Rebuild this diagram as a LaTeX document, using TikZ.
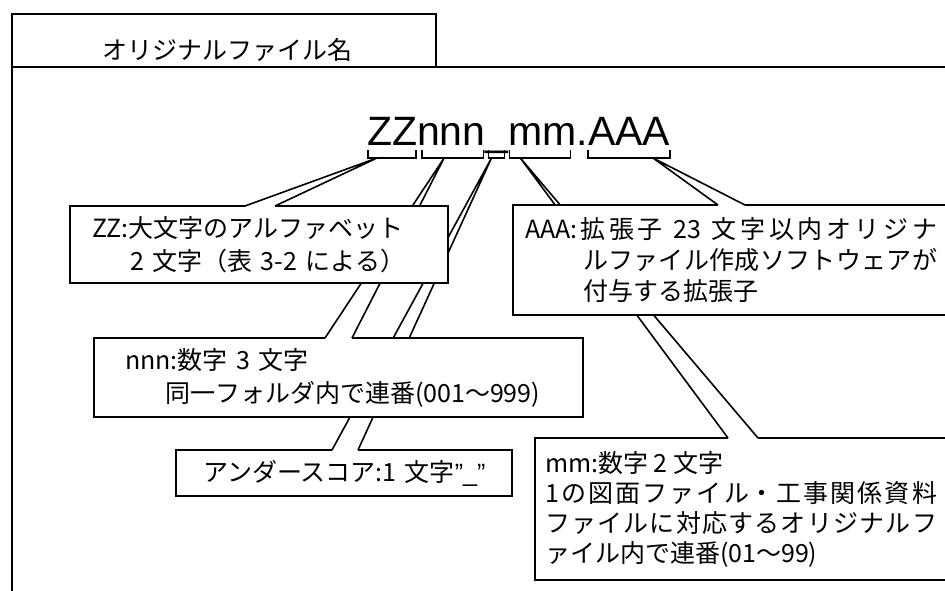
\documentclass[tikz,border=0pt]{standalone}
\usepackage{fontspec}
\setmainfont{Noto Sans CJK JP}
\newfontfamily\fnamefont{Liberation Sans}
\XeTeXlinebreaklocale "ja"
\XeTeXlinebreakskip=0pt plus 2pt
\usetikzlibrary{positioning}
\tikzset{
  callbox/.style={draw, fill=white, outer sep=0pt, inner ysep=0pt, anchor=north west, font=\fontsize{25pt}{33pt}\selectfont},
  fname/.style={inner sep=0pt, outer sep=0pt, font=\fnamefont\fontsize{41pt}{41pt}\selectfont},
}

\begin{document}
\begin{tikzpicture}[x=1pt, y=-1pt, line width=1.6pt, line join=miter]
  \useasboundingbox (0,0) rectangle (945,590);
  \clip (0,0) rectangle (945,590);

  % Frame and title tab
  \draw (12,620) -- (12,67) -- (980,67);
  \draw (12,67) |- (436,14) -- (436,67);
  \node[font=\fontsize{25pt}{30pt}\selectfont] (title) at (227,50) {オリジナルファイル名};

  % File name
  \node[fname, anchor=base west] (zz) at (367,145) {ZZ};
  \node[fname, base right=0pt of zz] (nnn) {nnn};
  \node[fname, base right=0pt of nnn] (us) {\_};
  \node[fname, base right=0pt of us] (mm) {mm};
  \node[fname, base right=0pt of mm] (dot) {.};
  \node[fname, base right=0pt of dot] (aaa) {AAA};

  \draw ([xshift=1pt,yshift=-5pt]zz.base west) -- ++(0,8) -| ([xshift=-1pt,yshift=-5pt]zz.base east);
  \draw ([xshift=5pt,yshift=-5pt]nnn.base west) -- ++(0,8) -| ([xshift=-2pt,yshift=-5pt]nnn.base east);
  \draw ([xshift=3pt,yshift=-5pt]us.base west) -- ++(0,8) -| ([xshift=-4pt,yshift=-5pt]us.base east);
  \draw ([xshift=1pt,yshift=-5pt]mm.base west) -- ++(0,8) -| ([xshift=-6pt,yshift=-5pt]mm.base east);
  \draw ([xshift=0pt,yshift=-5pt]aaa.base west) -- ++(0,8) -| ([xshift=0pt,yshift=-5pt]aaa.base east);

  \coordinate (zztip) at ([xshift=10pt,yshift=-13pt]zz.base west);
  \coordinate (nnntip) at ([xshift=27pt,yshift=-13pt]nnn.base west);
  \coordinate (ustip) at ([xshift=6pt,yshift=-13pt]us.base west);
  \coordinate (mmtip) at ([xshift=12pt,yshift=-13pt]mm.base west);
  \coordinate (aaatip) at ([xshift=65pt,yshift=-13pt]aaa.base west);

  % Underscore
  \node[callbox, minimum width=336pt, minimum height=46pt, inner xsep=27pt, text width=282pt, align=left] (usbox) at (176,450) {\mbox{アンダースコア:1 文字{\fnamefont ”\_”}}};
  \coordinate (usA) at ([xshift=156pt]usbox.north west);
  \coordinate (usB) at ([xshift=182pt]usbox.north west);
  \fill[white] (ustip) -- (usA) -- ([yshift=-1.2pt]usA) -- ([yshift=-1.2pt]usB) -- (usB) -- cycle;
  \draw (usA) -- (ustip) -- (usB);

  % nnn
  \node[callbox, minimum width=489pt, minimum height=79pt, inner xsep=31pt, text width=427pt, align=left] (nnnbox) at (94,338) {nnn:数字 3 文字\\\hspace*{40pt}同一フォルダ内で連番(001～999)};
  \coordinate (nnnA) at ([xshift=231pt]nnnbox.north west);
  \coordinate (nnnB) at ([xshift=258pt]nnnbox.north west);
  \fill[white] (nnntip) -- (nnnA) -- ([yshift=-1.2pt]nnnA) -- ([yshift=-1.2pt]nnnB) -- (nnnB) -- cycle;
  \draw (nnnA) -- (nnntip) -- (nnnB);

  % ZZ
  \node[callbox, minimum width=378pt, minimum height=77pt, inner xsep=22pt, text width=334pt, align=left] (zzbox) at (70,206) {ZZ:大文字のアルファベット\\\hspace*{38pt}2 文字（表 3-2 による）};
  \coordinate (zzA) at ([xshift=175pt]zzbox.north west);
  \coordinate (zzB) at ([xshift=205pt]zzbox.north west);
  \fill[white] (zztip) -- (zzA) -- ([yshift=-1.2pt]zzA) -- ([yshift=-1.2pt]zzB) -- (zzB) -- cycle;
  \draw (zzA) -- (zztip) -- (zzB);

  % mm
  \node[callbox, minimum height=142pt, inner xsep=10pt, text width=392pt, align=justify, font=\fontsize{25pt}{30pt}\selectfont] (mmbox) at (535,438) {mm:数字 2 文字\\1の図面ファイル・工事関係資料\linebreak ファイルに対応するオリジナルフ\linebreak ァイル内で連番(01～99)};
  \coordinate (mmA) at ([xshift=193pt]mmbox.north west);
  \coordinate (mmB) at ([xshift=223pt]mmbox.north west);
  \fill[white] (mmtip) -- (mmA) -- ([yshift=-1.2pt]mmA) -- ([yshift=-1.2pt]mmB) -- (mmB) -- cycle;
  \draw (mmA) -- (mmtip) -- (mmB);

  % AAA
  \node[callbox, minimum height=110pt, inner xsep=12pt, text width=412pt, align=justify, font=\fontsize{25pt}{31pt}\selectfont] (aaabox) at (513,205) {AAA:拡張子 23 文字以内オリジナ\linebreak\hspace*{58pt}ルファイル作成ソフトウェアが\linebreak\hspace*{58pt}付与する拡張子};
  \coordinate (aaaA) at ([xshift=205pt]aaabox.north west);
  \coordinate (aaaB) at ([xshift=232pt]aaabox.north west);
  \fill[white] (aaatip) -- (aaaA) -- ([yshift=-1.2pt]aaaA) -- ([yshift=-1.2pt]aaaB) -- (aaaB) -- cycle;
  \draw (aaaA) -- (aaatip) -- (aaaB);
\end{tikzpicture}
\end{document}
